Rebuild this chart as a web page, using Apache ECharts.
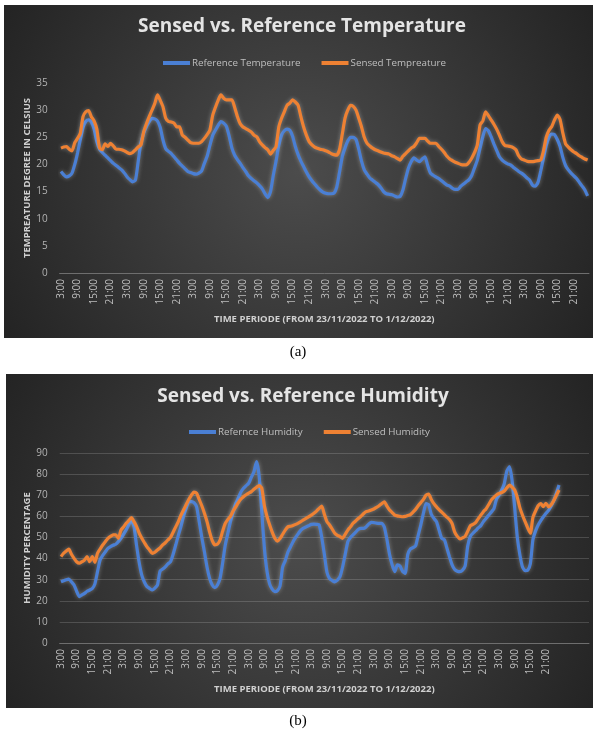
<!DOCTYPE html>
<html>
<head>
<meta charset="utf-8">
<script src="https://cdn.jsdelivr.net/npm/echarts@6/dist/echarts.min.js"></script>
<style>
  html, body { margin: 0; padding: 0; background: #fff; }
  #main { width: 596px; height: 738px; }
</style>
</head>
<body>
<div id="main"></div>
<script>
// hourly readings, first one at 3:00 on 23/11/2022
const refTemp = [
  18.7, 18.1, 17.7, 17.9, 18.4, 20.0, 22.1, 24.5, 26.8, 27.9, 28.2, 27.8, 26.5, 24.2, 22.8, 22.2, 21.7, 21.2, 20.7, 20.2, 19.8, 19.4, 19.0, 18.4,
  17.7, 17.2, 16.8, 17.1, 20.5, 24.0, 25.8, 27.0, 27.9, 28.5, 28.4, 28.0, 26.8, 24.5, 22.9, 22.4, 22.0, 21.4, 20.8, 20.2, 19.7, 19.2, 18.7, 18.5,
  18.3, 18.2, 18.4, 18.8, 20.2, 21.5, 23.5, 25.3, 26.3, 27.2, 27.9, 27.6, 27.0, 25.2, 23.0, 21.7, 20.9, 20.2, 19.4, 18.7, 17.9, 17.4, 17.0, 16.6,
  16.1, 15.5, 14.6, 13.9, 15.0, 18.0, 20.6, 23.5, 25.4, 26.2, 26.5, 26.3, 25.2, 23.3, 21.8, 20.6, 19.6, 18.6, 17.7, 17.0, 16.4, 15.8, 15.3, 14.9,
  14.7, 14.6, 14.6, 14.7, 15.8, 18.5, 21.4, 23.0, 24.3, 25.0, 25.0, 24.6, 22.8, 20.6, 19.0, 18.2, 17.5, 17.1, 16.7, 16.3, 15.7, 15.0, 14.6, 14.5,
  14.4, 14.2, 14.0, 14.1, 15.3, 17.4, 19.3, 20.5, 21.2, 20.8, 20.5, 21.0, 21.4, 19.8, 18.4, 18.0, 17.7, 17.4, 17.0, 16.6, 16.2, 16.0, 15.6, 15.4,
  15.4, 16.0, 16.4, 16.8, 17.2, 18.0, 19.4, 20.8, 23.0, 25.1, 26.6, 26.2, 25.1, 23.8, 22.6, 21.4, 20.8, 20.4, 20.1, 19.9, 19.5, 19.1, 18.7, 18.4,
  18.0, 17.5, 17.1, 16.2, 16.0, 16.7, 18.8, 21.2, 23.5, 25.0, 25.6, 25.5, 24.6, 23.3, 21.3, 19.8, 19.0, 18.4, 17.9, 17.4, 16.7, 16.0, 15.3, 14.2
]
const sensedTemp = [
  23.0, 23.2, 23.3, 22.8, 22.5, 24.0, 24.8, 25.7, 28.8, 29.7, 29.9, 28.8, 28.0, 26.5, 23.0, 22.7, 23.8, 23.3, 23.9, 23.4, 22.8, 22.8, 22.7, 22.5,
  22.2, 22.0, 22.2, 22.7, 23.2, 23.6, 26.0, 27.5, 28.8, 30.0, 31.2, 32.8, 31.8, 30.6, 28.5, 27.9, 27.8, 27.6, 26.9, 26.9, 25.4, 25.0, 24.5, 24.0,
  23.9, 23.9, 23.9, 24.2, 24.8, 25.5, 26.3, 29.0, 30.5, 31.8, 32.8, 32.2, 31.9, 31.9, 31.9, 30.5, 28.8, 27.5, 26.9, 26.6, 26.3, 26.0, 25.4, 25.1,
  24.2, 23.6, 23.1, 22.7, 21.9, 22.6, 23.3, 26.9, 28.5, 29.7, 30.9, 31.3, 31.9, 31.5, 30.9, 28.8, 26.9, 25.4, 24.2, 23.6, 23.2, 23.0, 22.8, 22.7,
  22.5, 22.3, 22.0, 21.8, 21.7, 22.7, 25.5, 28.5, 30.0, 30.9, 30.7, 30.0, 28.5, 26.9, 25.0, 23.9, 23.4, 23.0, 22.7, 22.5, 22.3, 22.1, 22.0, 21.9,
  21.6, 21.4, 21.1, 20.8, 21.5, 22.0, 22.5, 23.0, 23.3, 24.0, 24.8, 24.8, 24.8, 24.3, 23.9, 23.9, 23.9, 23.3, 22.8, 22.2, 21.5, 21.0, 20.7, 20.4,
  20.2, 20.0, 19.9, 19.9, 20.4, 21.2, 22.2, 23.6, 27.3, 28.0, 29.7, 29.0, 28.2, 27.4, 26.5, 25.4, 24.2, 23.5, 23.4, 23.3, 23.1, 22.7, 21.6, 21.0,
  20.8, 20.6, 20.5, 20.5, 20.6, 20.7, 20.8, 22.5, 25.0, 26.3, 27.0, 28.2, 29.1, 28.3, 25.8, 23.8, 23.2, 22.7, 22.3, 22.0, 21.6, 21.3, 21.0, 20.8
]
const refHum = [
  29.0, 29.5, 30.0, 30.3, 29.0, 27.5, 24.5, 22.0, 22.8, 23.5, 24.5, 25.1, 25.8, 28.0, 33.8, 39.3, 41.5, 43.2, 44.8, 45.6, 46.3, 46.8, 48.0, 49.6,
  51.5, 53.5, 56.0, 58.3, 55.0, 46.0, 38.0, 32.0, 28.8, 26.7, 25.8, 25.1, 26.0, 27.5, 34.1, 35.0, 36.1, 37.5, 38.5, 42.0, 46.4, 51.0, 55.1, 60.0,
  63.8, 66.9, 67.0, 66.5, 64.5, 57.5, 50.0, 43.2, 36.0, 30.6, 27.5, 26.2, 27.5, 30.6, 38.0, 46.4, 52.0, 57.5, 62.0, 66.0, 68.7, 71.5, 73.3, 74.5,
  75.7, 78.5, 81.1, 85.9, 79.0, 62.0, 45.0, 34.0, 28.0, 25.5, 24.3, 24.8, 27.0, 36.0, 39.0, 43.0, 45.5, 48.0, 50.0, 51.8, 53.5, 54.4, 55.0, 55.6,
  56.2, 56.3, 56.2, 56.0, 50.0, 42.0, 33.5, 30.5, 29.6, 29.0, 29.8, 31.4, 36.0, 42.0, 48.0, 50.0, 51.2, 52.5, 53.8, 54.3, 54.3, 55.0, 56.3, 57.2,
  57.0, 56.8, 56.7, 56.7, 55.0, 49.0, 42.0, 37.0, 33.8, 37.0, 36.5, 34.0, 33.0, 42.0, 44.5, 45.2, 46.0, 51.0, 56.0, 61.5, 66.0, 65.5, 61.0, 59.0,
  57.5, 53.5, 49.6, 49.0, 45.0, 40.8, 37.0, 34.8, 34.0, 33.8, 34.5, 36.5, 46.0, 50.5, 52.0, 53.2, 54.5, 55.6, 57.5, 59.0, 60.5, 62.0, 63.5, 68.0,
  70.0, 72.5, 75.5, 81.5, 83.5, 77.0, 64.0, 50.0, 41.7, 36.0, 34.3, 34.5, 37.5, 49.0, 53.0, 55.9, 58.0, 59.8, 61.5, 62.8, 65.0, 67.5, 70.9, 74.8
]
const sensedHum = [
  40.9, 42.5, 43.6, 44.5, 42.0, 40.1, 38.5, 37.8, 38.5, 39.3, 40.9, 38.5, 40.9, 38.2, 42.5, 44.5, 46.4, 48.0, 49.6, 50.5, 51.2, 51.2, 49.6, 53.5,
  55.0, 56.7, 58.0, 59.4, 57.5, 55.1, 52.0, 49.6, 47.5, 45.5, 44.0, 42.5, 43.0, 44.1, 45.0, 46.5, 47.5, 48.8, 50.0, 52.5, 55.0, 57.5, 60.5, 63.0,
  65.5, 68.0, 70.0, 71.5, 71.0, 68.0, 65.0, 61.5, 57.5, 52.5, 48.5, 46.5, 46.8, 48.8, 53.0, 56.7, 58.5, 60.0, 62.5, 64.5, 66.5, 68.2, 69.3, 70.2,
  71.0, 71.7, 72.8, 73.8, 74.5, 73.3, 65.0, 60.0, 56.0, 52.5, 49.6, 48.3, 49.5, 51.5, 53.5, 55.0, 55.3, 55.7, 56.2, 56.8, 57.5, 58.3, 59.0, 59.8,
  60.6, 61.5, 62.5, 63.8, 64.8, 61.0, 57.5, 55.9, 54.0, 52.0, 51.0, 50.4, 49.6, 51.5, 53.5, 55.0, 56.7, 57.8, 59.0, 60.0, 61.2, 62.2, 62.5, 63.0,
  63.5, 64.2, 65.0, 66.0, 66.9, 64.8, 63.0, 61.8, 60.6, 60.2, 60.0, 59.8, 60.0, 60.4, 60.8, 62.0, 63.3, 65.0, 66.5, 68.0, 70.0, 70.5, 68.0, 66.0,
  64.5, 63.2, 62.0, 60.8, 59.6, 58.5, 56.5, 52.5, 50.5, 49.3, 49.8, 50.5, 53.0, 55.5, 56.2, 57.0, 58.8, 60.5, 62.2, 63.5, 65.5, 67.7, 69.0, 70.1,
  70.8, 71.3, 72.0, 73.5, 74.8, 73.8, 72.5, 69.0, 64.0, 60.5, 57.5, 54.5, 52.0, 59.5, 62.5, 65.0, 66.0, 64.6, 66.2, 64.5, 65.5, 67.5, 70.0, 72.5
]
const startHour = 3
const emptyHumSlots = 11 // the humidity axis runs on past the last reading

const hourLabel = i => ((startHour + i) % 24) + ':00'
const tempCats = refTemp.map((v, i) => hourLabel(i))
const humCats = refHum.map((v, i) => hourLabel(i))
for (let i = 0; i < emptyHumSlots; i++) humCats.push('')

const FONT = '"Open Sans", sans-serif'
const BLUE = '#4a7fd4'
const ORANGE = '#ee8133'

const panelFill = () => new echarts.graphic.RadialGradient(0.5, 0.5, 1, [
  { offset: 0, color: '#4c4c4c' },
  { offset: 1, color: '#242424' },
])

const xAxisBase = (cats, idx) => ({
  type: 'category',
  gridIndex: idx,
  data: cats,
  boundaryGap: true,
  name: 'TIME PERIODE (FROM 23/11/2022 TO 1/12/2022)',
  nameLocation: 'middle',
  nameGap: 41,
  nameMoveOverlap: false,
  nameTextStyle: { color: '#d0d0d0', fontSize: 9.5, fontWeight: 'bold', fontFamily: FONT },
  axisLine: { lineStyle: { color: '#6e6e6e', width: 1 } },
  axisTick: { show: false },
  axisLabel: {
    interval: 5,
    rotate: 90,
    margin: 6,
    color: '#bdbdbd',
    fontSize: 10,
    fontFamily: FONT,
  },
  splitLine: { show: false },
})

const yAxisBase = (idx, name, max, interval, grid) => ({
  type: 'value',
  gridIndex: idx,
  min: 0,
  max: max,
  interval: interval,
  name: name,
  nameLocation: 'middle',
  nameRotate: 90,
  nameGap: 27,
  nameMoveOverlap: false,
  nameTextStyle: { color: '#d0d0d0', fontSize: 9.5, fontWeight: 'bold', fontFamily: FONT },
  axisLine: { show: false },
  axisTick: { show: false },
  axisLabel: { color: '#b3b3b3', fontSize: 10, margin: 12, fontFamily: FONT },
  splitLine: { show: grid, lineStyle: { color: 'rgba(255,255,255,0.16)', width: 1 } },
})

const lineSeries = (name, data, color, idx) => ({
  name: name,
  type: 'line',
  xAxisIndex: idx,
  yAxisIndex: idx,
  data: data,
  showSymbol: false,
  symbol: 'none',
  smooth: 0.2,
  lineStyle: { color: color, width: 3.2, shadowColor: 'rgba(255,255,255,0.35)', shadowBlur: 4 },
  itemStyle: { color: color },
})

const chart = echarts.init(document.getElementById('main'))

const option = {
  animation: false,
  backgroundColor: '#ffffff',
  graphic: [
    { type: 'rect', z: -10, shape: { x: 4, y: 5, width: 589, height: 333 }, style: { fill: panelFill() } },
    { type: 'rect', z: -10, shape: { x: 6, y: 374, width: 587, height: 334 }, style: { fill: panelFill() } },
    {
      type: 'text', x: 302, y: 27,
      style: { text: 'Sensed vs. Reference Temperature', fill: '#e4e4e4', fontSize: 19, fontWeight: 'bold', fontFamily: FONT, textAlign: 'center', textVerticalAlign: 'middle', align: 'center', verticalAlign: 'middle' },
    },
    {
      type: 'text', x: 303, y: 397,
      style: { text: 'Sensed vs. Reference Humidity', fill: '#e4e4e4', fontSize: 19, fontWeight: 'bold', fontFamily: FONT, textAlign: 'center', textVerticalAlign: 'middle', align: 'center', verticalAlign: 'middle' },
    },
    {
      type: 'text', x: 298, y: 352,
      style: { text: '(a)', fill: '#000', fontSize: 15, fontFamily: '"Liberation Serif", serif', textAlign: 'center', textVerticalAlign: 'middle', align: 'center', verticalAlign: 'middle' },
    },
    {
      type: 'text', x: 298, y: 721,
      style: { text: '(b)', fill: '#000', fontSize: 15, fontFamily: '"Liberation Serif", serif', textAlign: 'center', textVerticalAlign: 'middle', align: 'center', verticalAlign: 'middle' },
    },
  ],
  legend: [
    {
      data: ['Reference Temperature', 'Sensed Tempreature'],
      left: 158, top: 53,
      icon: 'rect', itemWidth: 27, itemHeight: 4, itemGap: 21,
      textStyle: { color: '#bfbfbf', fontSize: 9.8, fontFamily: FONT, padding: [0, 0, 0, -3] },
    },
    {
      data: ['Refernce Humidity', 'Sensed Humidity'],
      left: 184, top: 422,
      icon: 'rect', itemWidth: 27, itemHeight: 4, itemGap: 21,
      textStyle: { color: '#bfbfbf', fontSize: 9.8, fontFamily: FONT, padding: [0, 0, 0, -3] },
    },
  ],
  grid: [
    { left: 59.6, right: 7, top: 83, bottom: 465 },
    { left: 59.7, right: 7, top: 453, bottom: 95 },
  ],
  xAxis: [xAxisBase(tempCats, 0), xAxisBase(humCats, 1)],
  yAxis: [
    yAxisBase(0, 'TEMPREATURE DEGREE IN CELSIUS', 35, 5, false),
    yAxisBase(1, 'HUMIDITY PERCENTAGE', 90, 10, true),
  ],
  series: [
    lineSeries('Reference Temperature', refTemp, BLUE, 0),
    lineSeries('Sensed Tempreature', sensedTemp, ORANGE, 0),
    lineSeries('Refernce Humidity', refHum, BLUE, 1),
    lineSeries('Sensed Humidity', sensedHum, ORANGE, 1),
  ],
}

chart.setOption(option)
</script>
</body>
</html>
